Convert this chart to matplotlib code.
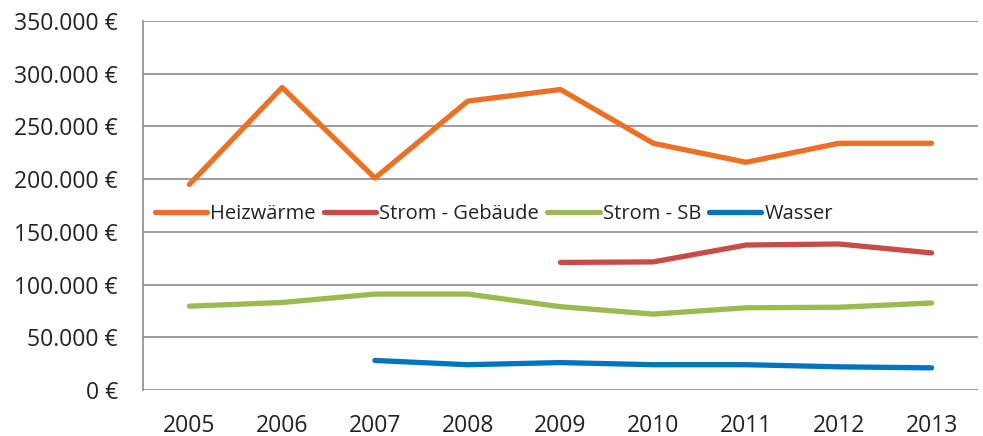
import numpy as np
import matplotlib.pyplot as plt
from matplotlib.ticker import FuncFormatter

plt.rcParams['font.family'] = ['Open Sans', 'DejaVu Sans']

jahre = ['2005', '2006', '2007', '2008', '2009', '2010', '2011', '2012', '2013']
heizwaerme = [195000, 287000, 201000, 274000, 285000, 234000, 216000, 234000, 234000]
strom_gebaeude = [np.nan, np.nan, np.nan, np.nan, 121000, 121500, 137500, 138500, 130000]
strom_sb = [79500, 83000, 91000, 91000, 79000, 72000, 78000, 78500, 82500]
wasser = [np.nan, np.nan, 28000, 24000, 26000, 24000, 24000, 22000, 21000]

x = np.arange(len(jahre))
fig = plt.figure(figsize=(9.83, 4.36), dpi=100)
ax = fig.add_axes([143 / 983, 46 / 436, 835 / 983, 369 / 436])

lw = 3.8
ax.plot(x, heizwaerme, color='#EC7124', lw=lw, solid_capstyle='round', label='Heizwärme')
ax.plot(x, strom_gebaeude, color='#C84B47', lw=lw, solid_capstyle='round', label='Strom - Gebäude')
ax.plot(x, strom_sb, color='#9BBB50', lw=lw, solid_capstyle='round', label='Strom - SB')
ax.plot(x, wasser, color='#0075BF', lw=lw, solid_capstyle='round', label='Wasser')

ax.set_xlim(-0.5, len(jahre) - 0.5)
ax.set_ylim(0, 350000)
ax.set_yticks(np.arange(0, 350001, 50000))
ax.yaxis.set_major_formatter(FuncFormatter(lambda v, p: f'{int(v):,}'.replace(',', '.') + ' €'))
ax.set_xticks(x)
ax.set_xticklabels(jahre)
ax.grid(axis='y', color='#8c8c8c', lw=1.2)
ax.set_axisbelow(True)
for s in ['top', 'right', 'bottom']:
    ax.spines[s].set_visible(False)
ax.spines['left'].set_color('#8c8c8c')
ax.spines['left'].set_linewidth(1.2)
ax.tick_params(length=0, labelsize=16.5, colors='#222222')
ax.tick_params(axis='x', pad=17)
ax.tick_params(axis='y', pad=18)

leg = ax.legend(loc='center left', bbox_to_anchor=(0.0, 0.478), ncol=4, frameon=False,
                fontsize=14.5, handlelength=2.6, handletextpad=0.15, columnspacing=0.4,
                borderaxespad=0.2)
for t in leg.get_texts():
    t.set_color('#222222')

fig.savefig('out.png', dpi=100)
